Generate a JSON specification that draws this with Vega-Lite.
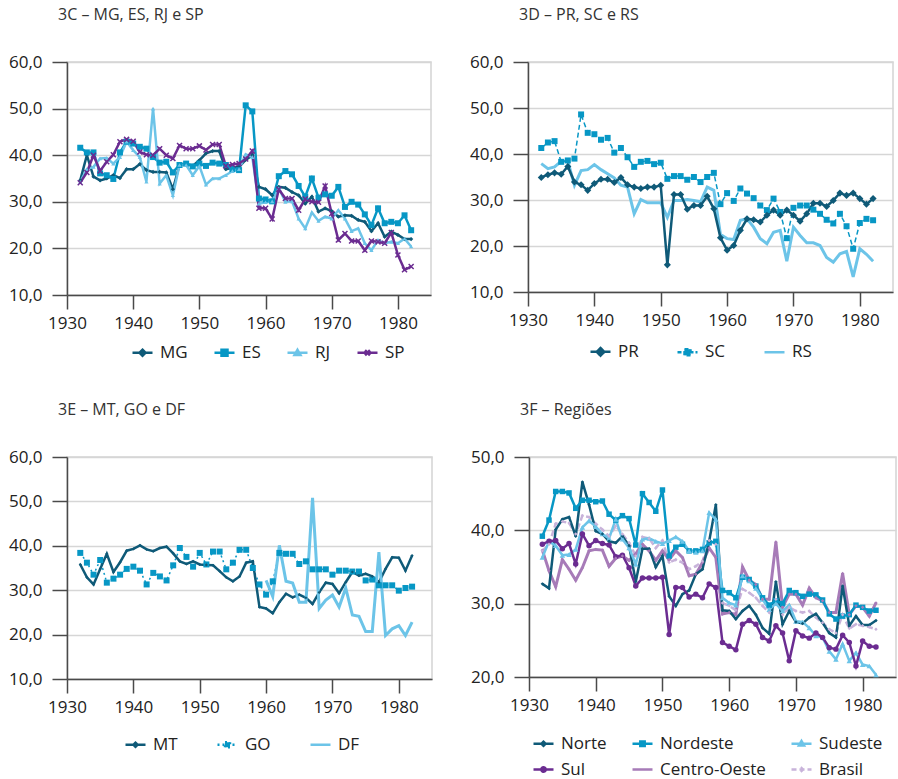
{
"$schema": "https://vega.github.io/schema/vega-lite/v6.json",
"background": "white",
"padding": {"left": 7, "top": 6, "right": 0, "bottom": 0},
"datasets": {
"c": [
{"year":1932,"MG":34.6,"ES":41.6,"RJ":34.3,"SP":34.1},
{"year":1933,"MG":40.0,"ES":40.6,"RJ":37.0,"SP":36.3},
{"year":1934,"MG":35.4,"ES":40.6,"RJ":37.5,"SP":40.0},
{"year":1935,"MG":34.6,"ES":36.1,"RJ":39.3,"SP":36.6},
{"year":1936,"MG":35.0,"ES":35.7,"RJ":39.4,"SP":38.6},
{"year":1937,"MG":35.7,"ES":34.9,"RJ":38.2,"SP":40.1},
{"year":1938,"MG":35.1,"ES":40.6,"RJ":39.6,"SP":42.9},
{"year":1939,"MG":37.0,"ES":42.9,"RJ":42.9,"SP":43.4},
{"year":1940,"MG":37.0,"ES":42.5,"RJ":41.1,"SP":43.0},
{"year":1941,"MG":38.1,"ES":41.8,"RJ":39.6,"SP":40.7},
{"year":1942,"MG":36.8,"ES":41.4,"RJ":34.3,"SP":40.1},
{"year":1943,"MG":36.4,"ES":39.6,"RJ":50.0,"SP":40.0},
{"year":1944,"MG":36.4,"ES":38.4,"RJ":33.9,"SP":41.4},
{"year":1945,"MG":36.3,"ES":38.6,"RJ":35.7,"SP":40.0},
{"year":1946,"MG":32.7,"ES":36.3,"RJ":31.4,"SP":39.3},
{"year":1947,"MG":37.9,"ES":37.9,"RJ":37.9,"SP":42.1},
{"year":1948,"MG":38.2,"ES":38.2,"RJ":37.9,"SP":41.4},
{"year":1949,"MG":37.7,"ES":37.6,"RJ":35.7,"SP":41.4},
{"year":1950,"MG":38.9,"ES":38.2,"RJ":37.7,"SP":42.0},
{"year":1951,"MG":40.4,"ES":37.7,"RJ":33.7,"SP":41.1},
{"year":1952,"MG":40.9,"ES":38.4,"RJ":35.0,"SP":42.3},
{"year":1953,"MG":40.9,"ES":38.2,"RJ":35.0,"SP":42.3},
{"year":1954,"MG":37.0,"ES":37.9,"RJ":35.7,"SP":37.7},
{"year":1955,"MG":37.3,"ES":37.0,"RJ":36.6,"SP":38.0},
{"year":1956,"MG":37.5,"ES":36.8,"RJ":37.0,"SP":38.2},
{"year":1957,"MG":39.0,"ES":50.7,"RJ":40.2,"SP":39.2},
{"year":1958,"MG":40.0,"ES":49.4,"RJ":39.6,"SP":40.9},
{"year":1959,"MG":33.2,"ES":30.7,"RJ":29.6,"SP":28.6},
{"year":1960,"MG":32.7,"ES":30.5,"RJ":29.9,"SP":28.6},
{"year":1961,"MG":31.4,"ES":30.1,"RJ":30.1,"SP":26.3},
{"year":1962,"MG":33.2,"ES":35.5,"RJ":32.9,"SP":32.7},
{"year":1963,"MG":33.0,"ES":36.6,"RJ":30.0,"SP":30.7},
{"year":1964,"MG":32.1,"ES":35.9,"RJ":30.1,"SP":30.7},
{"year":1965,"MG":31.4,"ES":33.4,"RJ":26.4,"SP":28.2},
{"year":1966,"MG":29.6,"ES":31.1,"RJ":24.3,"SP":30.6},
{"year":1967,"MG":31.1,"ES":35.0,"RJ":27.7,"SP":30.0},
{"year":1968,"MG":27.9,"ES":30.9,"RJ":25.9,"SP":29.9},
{"year":1969,"MG":28.6,"ES":31.6,"RJ":26.8,"SP":33.4},
{"year":1970,"MG":28.0,"ES":31.3,"RJ":26.4,"SP":27.5},
{"year":1971,"MG":26.8,"ES":33.2,"RJ":28.2,"SP":21.8},
{"year":1972,"MG":27.1,"ES":28.9,"RJ":26.4,"SP":23.2},
{"year":1973,"MG":27.0,"ES":30.0,"RJ":23.7,"SP":21.6},
{"year":1974,"MG":26.1,"ES":29.4,"RJ":24.3,"SP":21.6},
{"year":1975,"MG":25.7,"ES":27.3,"RJ":21.1,"SP":19.6},
{"year":1976,"MG":23.7,"ES":25.0,"RJ":19.6,"SP":21.6},
{"year":1977,"MG":25.4,"ES":28.6,"RJ":21.8,"SP":21.4},
{"year":1978,"MG":22.5,"ES":25.4,"RJ":21.1,"SP":21.1},
{"year":1979,"MG":23.6,"ES":25.7,"RJ":21.4,"SP":23.4},
{"year":1980,"MG":22.9,"ES":25.4,"RJ":21.1,"SP":18.6},
{"year":1981,"MG":22.0,"ES":27.1,"RJ":22.1,"SP":15.4},
{"year":1982,"MG":22.0,"ES":23.9,"RJ":20.4,"SP":16.1}
],
"d": [
{"year":1932,"PR":34.9,"SC":41.3,"RS":37.9},
{"year":1933,"PR":35.5,"SC":42.5,"RS":36.8},
{"year":1934,"PR":35.9,"SC":42.8,"RS":37.2},
{"year":1935,"PR":35.6,"SC":38.3,"RS":38.4},
{"year":1936,"PR":37.3,"SC":38.6,"RS":38.4},
{"year":1937,"PR":33.9,"SC":39.0,"RS":33.2},
{"year":1938,"PR":33.3,"SC":48.6,"RS":36.4},
{"year":1939,"PR":32.1,"SC":44.6,"RS":36.6},
{"year":1940,"PR":33.6,"SC":44.3,"RS":37.7},
{"year":1941,"PR":34.5,"SC":43.1,"RS":36.6},
{"year":1942,"PR":34.5,"SC":43.5,"RS":35.7},
{"year":1943,"PR":33.8,"SC":40.3,"RS":34.8},
{"year":1944,"PR":34.9,"SC":41.3,"RS":33.2},
{"year":1945,"PR":33.3,"SC":39.3,"RS":32.8},
{"year":1946,"PR":32.8,"SC":37.2,"RS":27.0},
{"year":1947,"PR":32.5,"SC":38.3,"RS":30.1},
{"year":1948,"PR":32.8,"SC":38.5,"RS":29.4},
{"year":1949,"PR":32.8,"SC":37.8,"RS":29.4},
{"year":1950,"PR":33.2,"SC":38.1,"RS":29.4},
{"year":1951,"PR":15.9,"SC":34.6,"RS":26.2},
{"year":1952,"PR":31.2,"SC":35.2,"RS":29.9},
{"year":1953,"PR":31.2,"SC":35.2,"RS":29.9},
{"year":1954,"PR":28.0,"SC":34.4,"RS":30.1},
{"year":1955,"PR":28.8,"SC":35.0,"RS":29.9},
{"year":1956,"PR":28.8,"SC":33.9,"RS":29.6},
{"year":1957,"PR":30.8,"SC":35.0,"RS":32.8},
{"year":1958,"PR":28.1,"SC":35.9,"RS":32.1},
{"year":1959,"PR":21.8,"SC":29.1,"RS":22.5},
{"year":1960,"PR":19.1,"SC":31.5,"RS":21.6},
{"year":1961,"PR":20.1,"SC":29.8,"RS":21.4},
{"year":1962,"PR":23.4,"SC":32.5,"RS":25.6},
{"year":1963,"PR":25.9,"SC":31.4,"RS":25.9},
{"year":1964,"PR":25.7,"SC":30.4,"RS":24.1},
{"year":1965,"PR":25.2,"SC":28.8,"RS":21.6},
{"year":1966,"PR":26.7,"SC":27.8,"RS":20.5},
{"year":1967,"PR":27.8,"SC":30.3,"RS":23.0},
{"year":1968,"PR":26.7,"SC":27.4,"RS":23.4},
{"year":1969,"PR":27.8,"SC":21.7,"RS":16.7},
{"year":1970,"PR":26.7,"SC":28.3,"RS":24.1},
{"year":1971,"PR":25.4,"SC":28.8,"RS":22.3},
{"year":1972,"PR":27.0,"SC":28.8,"RS":20.7},
{"year":1973,"PR":29.3,"SC":27.9,"RS":20.7},
{"year":1974,"PR":29.3,"SC":27.0,"RS":20.1},
{"year":1975,"PR":28.6,"SC":25.7,"RS":17.5},
{"year":1976,"PR":29.9,"SC":24.9,"RS":16.5},
{"year":1977,"PR":31.5,"SC":27.0,"RS":18.3},
{"year":1978,"PR":31.0,"SC":24.3,"RS":18.8},
{"year":1979,"PR":31.5,"SC":19.4,"RS":13.3},
{"year":1980,"PR":30.3,"SC":25.0,"RS":19.4},
{"year":1981,"PR":29.1,"SC":25.9,"RS":18.2},
{"year":1982,"PR":30.3,"SC":25.6,"RS":16.7}
],
"e": [
{"year":1932,"MT":35.8,"GO":38.4},
{"year":1933,"MT":32.9,"GO":36.2},
{"year":1934,"MT":31.3,"GO":33.5},
{"year":1935,"MT":34.8,"GO":36.8},
{"year":1936,"MT":38.2,"GO":31.7},
{"year":1937,"MT":34.1,"GO":32.6},
{"year":1938,"MT":36.3,"GO":33.5},
{"year":1939,"MT":38.9,"GO":34.8},
{"year":1940,"MT":39.3,"GO":35.3},
{"year":1941,"MT":40.1,"GO":34.4},
{"year":1942,"MT":39.2,"GO":31.3},
{"year":1943,"MT":38.8,"GO":33.9},
{"year":1944,"MT":39.5,"GO":33.1},
{"year":1945,"MT":39.8,"GO":32.2},
{"year":1946,"MT":38.3,"GO":35.6},
{"year":1947,"MT":36.5,"GO":39.5},
{"year":1948,"MT":35.9,"GO":37.5},
{"year":1949,"MT":36.5,"GO":35.3},
{"year":1950,"MT":35.8,"GO":38.4},
{"year":1951,"MT":35.7,"GO":35.8},
{"year":1952,"MT":35.6,"GO":38.7},
{"year":1953,"MT":34.3,"GO":38.7},
{"year":1954,"MT":32.9,"GO":34.7},
{"year":1955,"MT":32.0,"GO":36.2},
{"year":1956,"MT":33.1,"GO":39.1},
{"year":1957,"MT":36.2,"GO":39.1},
{"year":1958,"MT":36.5,"GO":35.0},
{"year":1959,"MT":26.2,"GO":31.3},
{"year":1960,"MT":25.9,"GO":29.0,"DF":32.2},
{"year":1961,"MT":24.8,"GO":32.0,"DF":28.6},
{"year":1962,"MT":27.3,"GO":38.4,"DF":40.1},
{"year":1963,"MT":29.2,"GO":38.2,"DF":32.0},
{"year":1964,"MT":28.4,"GO":38.2,"DF":31.6},
{"year":1965,"MT":29.0,"GO":35.9,"DF":27.3},
{"year":1966,"MT":28.3,"GO":36.5,"DF":27.3},
{"year":1967,"MT":26.9,"GO":34.7,"DF":50.8},
{"year":1968,"MT":29.5,"GO":34.7,"DF":25.9},
{"year":1969,"MT":31.7,"GO":34.7,"DF":27.8},
{"year":1970,"MT":31.4,"GO":33.5,"DF":28.9},
{"year":1971,"MT":29.3,"GO":34.4,"DF":26.2},
{"year":1972,"MT":31.8,"GO":34.4,"DF":30.5},
{"year":1973,"MT":34.1,"GO":34.2,"DF":24.4},
{"year":1974,"MT":33.3,"GO":34.2,"DF":24.1},
{"year":1975,"MT":33.7,"GO":32.2,"DF":20.7},
{"year":1976,"MT":33.1,"GO":32.4,"DF":20.7},
{"year":1977,"MT":31.8,"GO":31.1,"DF":38.6},
{"year":1978,"MT":34.8,"GO":31.1,"DF":19.8},
{"year":1979,"MT":37.4,"GO":31.1,"DF":21.3},
{"year":1980,"MT":37.3,"GO":29.9,"DF":22.0},
{"year":1981,"MT":34.4,"GO":30.5,"DF":19.8},
{"year":1982,"MT":37.8,"GO":30.8,"DF":22.8}
],
"f": [
{"year":1932,"Norte":32.7,"Nordeste":39.2,"Sudeste":36.3,"Sul":38.1,"Centro-Oeste":37.3,"Brasil":37.2},
{"year":1933,"Norte":32.1,"Nordeste":41.4,"Sudeste":38.5,"Sul":38.5,"Centro-Oeste":34.5,"Brasil":38.1},
{"year":1934,"Norte":40.1,"Nordeste":45.3,"Sudeste":37.9,"Sul":38.6,"Centro-Oeste":32.3,"Brasil":40.9},
{"year":1935,"Norte":41.5,"Nordeste":45.3,"Sudeste":36.6,"Sul":37.5,"Centro-Oeste":36.0,"Brasil":41.2},
{"year":1936,"Norte":41.8,"Nordeste":45.1,"Sudeste":36.7,"Sul":38.2,"Centro-Oeste":34.7,"Brasil":41.0},
{"year":1937,"Norte":39.2,"Nordeste":43.0,"Sudeste":37.4,"Sul":35.4,"Centro-Oeste":33.2,"Brasil":39.5},
{"year":1938,"Norte":46.6,"Nordeste":44.1,"Sudeste":40.4,"Sul":39.5,"Centro-Oeste":34.9,"Brasil":42.0},
{"year":1939,"Norte":43.5,"Nordeste":44.1,"Sudeste":41.3,"Sul":37.9,"Centro-Oeste":37.2,"Brasil":41.8},
{"year":1940,"Norte":39.9,"Nordeste":43.9,"Sudeste":40.5,"Sul":38.6,"Centro-Oeste":37.4,"Brasil":40.9},
{"year":1941,"Norte":39.5,"Nordeste":44.0,"Sudeste":39.5,"Sul":38.2,"Centro-Oeste":37.3,"Brasil":40.1},
{"year":1942,"Norte":38.5,"Nordeste":42.2,"Sudeste":38.9,"Sul":38.0,"Centro-Oeste":35.1,"Brasil":39.2},
{"year":1943,"Norte":38.3,"Nordeste":41.4,"Sudeste":41.5,"Sul":36.4,"Centro-Oeste":36.2,"Brasil":40.6},
{"year":1944,"Norte":39.2,"Nordeste":42.0,"Sudeste":38.8,"Sul":36.6,"Centro-Oeste":36.5,"Brasil":39.5},
{"year":1945,"Norte":37.9,"Nordeste":41.6,"Sudeste":37.6,"Sul":34.9,"Centro-Oeste":35.9,"Brasil":38.3},
{"year":1946,"Norte":33.0,"Nordeste":38.0,"Sudeste":35.4,"Sul":32.4,"Centro-Oeste":36.8,"Brasil":36.5},
{"year":1947,"Norte":37.5,"Nordeste":45.0,"Sudeste":38.8,"Sul":33.5,"Centro-Oeste":38.1,"Brasil":39.1},
{"year":1948,"Norte":37.5,"Nordeste":43.8,"Sudeste":38.9,"Sul":33.5,"Centro-Oeste":37.2,"Brasil":38.9},
{"year":1949,"Norte":35.0,"Nordeste":42.6,"Sudeste":38.5,"Sul":33.5,"Centro-Oeste":35.9,"Brasil":37.6},
{"year":1950,"Norte":36.5,"Nordeste":45.5,"Sudeste":38.2,"Sul":33.6,"Centro-Oeste":37.2,"Brasil":38.6},
{"year":1951,"Norte":31.0,"Nordeste":36.5,"Sudeste":38.6,"Sul":25.8,"Centro-Oeste":36.0,"Brasil":35.6},
{"year":1952,"Norte":29.7,"Nordeste":37.7,"Sudeste":39.1,"Sul":32.2,"Centro-Oeste":37.2,"Brasil":36.0},
{"year":1953,"Norte":31.3,"Nordeste":38.1,"Sudeste":38.5,"Sul":32.2,"Centro-Oeste":36.3,"Brasil":35.6},
{"year":1954,"Norte":31.8,"Nordeste":37.2,"Sudeste":37.2,"Sul":30.9,"Centro-Oeste":33.8,"Brasil":34.7},
{"year":1955,"Norte":34.0,"Nordeste":37.2,"Sudeste":37.0,"Sul":31.3,"Centro-Oeste":34.0,"Brasil":35.1},
{"year":1956,"Norte":34.7,"Nordeste":37.4,"Sudeste":37.2,"Sul":30.8,"Centro-Oeste":35.6,"Brasil":35.8},
{"year":1957,"Norte":38.5,"Nordeste":38.3,"Sudeste":42.4,"Sul":32.7,"Centro-Oeste":37.6,"Brasil":38.6},
{"year":1958,"Norte":43.5,"Nordeste":38.5,"Sudeste":41.5,"Sul":32.2,"Centro-Oeste":36.3,"Brasil":38.1},
{"year":1959,"Norte":29.1,"Nordeste":31.8,"Sudeste":30.8,"Sul":24.7,"Centro-Oeste":28.6,"Brasil":30.1},
{"year":1960,"Norte":29.0,"Nordeste":31.5,"Sudeste":30.1,"Sul":24.2,"Centro-Oeste":28.8,"Brasil":29.7},
{"year":1961,"Norte":27.9,"Nordeste":30.8,"Sudeste":29.8,"Sul":23.7,"Centro-Oeste":28.5,"Brasil":29.1},
{"year":1962,"Norte":29.0,"Nordeste":33.6,"Sudeste":33.8,"Sul":27.2,"Centro-Oeste":35.0,"Brasil":32.0},
{"year":1963,"Norte":29.7,"Nordeste":33.3,"Sudeste":33.1,"Sul":27.7,"Centro-Oeste":33.2,"Brasil":31.5},
{"year":1964,"Norte":28.5,"Nordeste":32.4,"Sudeste":32.1,"Sul":27.2,"Centro-Oeste":32.6,"Brasil":30.8},
{"year":1965,"Norte":26.7,"Nordeste":30.8,"Sudeste":30.6,"Sul":25.4,"Centro-Oeste":30.6,"Brasil":29.7},
{"year":1966,"Norte":25.9,"Nordeste":29.8,"Sudeste":29.2,"Sul":24.9,"Centro-Oeste":30.6,"Brasil":28.8},
{"year":1967,"Norte":33.0,"Nordeste":30.4,"Sudeste":30.0,"Sul":27.0,"Centro-Oeste":38.4,"Brasil":30.6},
{"year":1968,"Norte":27.2,"Nordeste":30.0,"Sudeste":29.0,"Sul":26.0,"Centro-Oeste":29.5,"Brasil":28.5},
{"year":1969,"Norte":29.0,"Nordeste":31.8,"Sudeste":29.8,"Sul":22.2,"Centro-Oeste":31.3,"Brasil":29.5},
{"year":1970,"Norte":27.5,"Nordeste":31.5,"Sudeste":27.6,"Sul":26.3,"Centro-Oeste":31.3,"Brasil":29.0},
{"year":1971,"Norte":27.3,"Nordeste":31.0,"Sudeste":27.5,"Sul":25.6,"Centro-Oeste":29.8,"Brasil":28.8},
{"year":1972,"Norte":28.1,"Nordeste":31.3,"Sudeste":26.7,"Sul":25.3,"Centro-Oeste":32.1,"Brasil":29.0},
{"year":1973,"Norte":28.6,"Nordeste":31.2,"Sudeste":25.6,"Sul":26.0,"Centro-Oeste":30.8,"Brasil":28.1},
{"year":1974,"Norte":27.4,"Nordeste":30.5,"Sudeste":25.4,"Sul":25.4,"Centro-Oeste":30.4,"Brasil":27.4},
{"year":1975,"Norte":26.0,"Nordeste":28.6,"Sudeste":23.5,"Sul":24.0,"Centro-Oeste":28.8,"Brasil":26.5},
{"year":1976,"Norte":25.4,"Nordeste":27.9,"Sudeste":22.4,"Sul":23.8,"Centro-Oeste":28.8,"Brasil":26.0},
{"year":1977,"Norte":32.4,"Nordeste":28.3,"Sudeste":24.5,"Sul":25.7,"Centro-Oeste":34.1,"Brasil":28.5},
{"year":1978,"Norte":27.0,"Nordeste":28.5,"Sudeste":22.2,"Sul":24.7,"Centro-Oeste":28.5,"Brasil":26.6},
{"year":1979,"Norte":28.3,"Nordeste":29.8,"Sudeste":23.3,"Sul":21.5,"Centro-Oeste":29.7,"Brasil":27.2},
{"year":1980,"Norte":27.1,"Nordeste":29.5,"Sudeste":21.7,"Sul":24.9,"Centro-Oeste":29.5,"Brasil":27.0},
{"year":1981,"Norte":27.1,"Nordeste":29.0,"Sudeste":21.5,"Sul":24.2,"Centro-Oeste":28.3,"Brasil":26.8},
{"year":1982,"Norte":27.7,"Nordeste":29.1,"Sudeste":20.3,"Sul":24.1,"Centro-Oeste":30.1,"Brasil":26.5}
]
},
"spacing": 39,
"resolve": {"scale": {"color": "independent"}, "legend": {"color": "independent"}},
"vconcat": [
{"spacing": 36, "resolve": {"scale": {"color": "independent"}, "legend": {"color": "independent"}}, "hconcat": [
{
"width": 364, "height": 233,
"title": {"text": "3C – MG, ES, RJ e SP", "dx": -9},
"data": {"name": "c"},
"transform": [{"fold": ["MG","ES","RJ","SP"], "as": ["s","v"]}, {"filter": "isValid(datum.v)"}],
"encoding": {
"x": {"field": "year", "type": "quantitative", "scale": {"domain": [1930,1985], "nice": false, "zero": false}, "axis": {"values": [1930,1940,1950,1960,1970,1980], "format": "d"}},
"y": {"field": "v", "type": "quantitative", "scale": {"domain": [10,60], "nice": false, "zero": false}, "axis": {"values": [10,20,30,40,50,60], "labelExpr": "replace(format(datum.value, '.1f'), '.', ',')"}},
"color": {"field": "s", "type": "nominal", "scale": {"domain": ["MG","ES","RJ","SP"], "range": ["#0f5a78","#0797c5","#6cc4e8","#6b2c91"]},
"legend": {"orient": "none", "legendX": 64, "legendY": 279, "direction": "horizontal", "columns": 4, "columnPadding": 21,
"encode": {"symbols": {"update": {
"shape": {"signal": "['M-1,0H1M0,-0.3L0.3,0L0,0.3L-0.3,0Z','M-1,0H1M-0.3,-0.3H0.3V0.3H-0.3Z','M-1,0H1M0,-0.3L0.3,0.22H-0.3Z','M-1,0H1M-0.25,-0.25L0.25,0.25M-0.25,0.25L0.25,-0.25'][indexof(['MG','ES','RJ','SP'], datum.value)]"},
"stroke": {"signal": "['#0f5a78','#0797c5','#6cc4e8','#6b2c91'][indexof(['MG','ES','RJ','SP'], datum.value)]"},
"fill": {"signal": "['#0f5a78','#0797c5','#6cc4e8','#6b2c91'][indexof(['MG','ES','RJ','SP'], datum.value)]"},
"strokeWidth": {"value": 2.5},
"opacity": {"value": 1}
}}}}
}
},
"layer": [
{"mark": {"type": "line", "strokeWidth": 2.5}},
{"transform": [{"filter": "datum.s === 'MG'"}], "mark": {"type": "point", "shape": "diamond", "size": 18, "filled": true, "opacity": 1}},
{"transform": [{"filter": "datum.s === 'ES'"}], "mark": {"type": "point", "shape": "square", "size": 36, "filled": true, "opacity": 1}},
{"transform": [{"filter": "datum.s === 'RJ'"}], "mark": {"type": "point", "shape": "triangle-up", "size": 18, "filled": true, "opacity": 1}},
{"transform": [{"filter": "datum.s === 'SP'"}], "mark": {"type": "point", "shape": "M-1,-1L1,1M-1,1L1,-1", "size": 25, "filled": false, "strokeWidth": 1.5, "opacity": 1}}
]
},
{
"width": 365, "height": 230,
"title": {"text": "3D – PR, SC e RS", "dx": -9},
"data": {"name": "d"},
"transform": [{"fold": ["PR","SC","RS"], "as": ["s","v"]}, {"filter": "isValid(datum.v)"}],
"encoding": {
"x": {"field": "year", "type": "quantitative", "scale": {"domain": [1930,1985], "nice": false, "zero": false}, "axis": {"values": [1930,1940,1950,1960,1970,1980], "format": "d"}},
"y": {"field": "v", "type": "quantitative", "scale": {"domain": [10,60], "nice": false, "zero": false}, "axis": {"values": [10,20,30,40,50,60], "labelExpr": "replace(format(datum.value, '.1f'), '.', ',')"}},
"color": {"field": "s", "type": "nominal", "scale": {"domain": ["PR","SC","RS"], "range": ["#0f5a78","#0797c5","#6cc4e8"]},
"legend": {"orient": "none", "legendX": 61, "legendY": 278, "direction": "horizontal", "columns": 3, "columnPadding": 33,
"encode": {"symbols": {"update": {
"shape": {"signal": "['M-1,0H1M0,-0.38L0.38,0L0,0.38L-0.38,0Z','M-1,0H1M-0.3,-0.3H0.3V0.3H-0.3Z','M-1,0H1'][indexof(['PR','SC','RS'], datum.value)]"},
"stroke": {"signal": "['#0f5a78','#0797c5','#6cc4e8'][indexof(['PR','SC','RS'], datum.value)]"},
"fill": {"signal": "['#0f5a78','#0797c5','#6cc4e8'][indexof(['PR','SC','RS'], datum.value)]"},
"strokeDash": {"signal": "datum.value === 'SC' ? [4,2] : [1,0]"},
"strokeWidth": {"value": 2.5},
"opacity": {"value": 1}
}}}}
}
},
"layer": [
{"transform": [{"filter": "datum.s === 'RS'"}], "mark": {"type": "line", "strokeWidth": 3}},
{"transform": [{"filter": "datum.s === 'SC'"}], "mark": {"type": "line", "strokeWidth": 1.5, "strokeDash": [5,3]}},
{"transform": [{"filter": "datum.s === 'PR'"}], "mark": {"type": "line", "strokeWidth": 2.5}},
{"transform": [{"filter": "datum.s === 'SC'"}], "mark": {"type": "point", "shape": "square", "size": 36, "filled": true, "opacity": 1}},
{"transform": [{"filter": "datum.s === 'PR'"}], "mark": {"type": "point", "shape": "diamond", "size": 50, "filled": true, "opacity": 1}}
]
}
]},
{"spacing": 36, "resolve": {"scale": {"color": "independent"}, "legend": {"color": "independent"}}, "hconcat": [
{
"width": 365, "height": 222,
"title": {"text": "3E – MT, GO e DF", "dx": -9},
"data": {"name": "e"},
"transform": [{"fold": ["MT","GO","DF"], "as": ["s","v"]}, {"filter": "isValid(datum.v)"}],
"encoding": {
"x": {"field": "year", "type": "quantitative", "scale": {"domain": [1930,1985], "nice": false, "zero": false}, "axis": {"values": [1930,1940,1950,1960,1970,1980], "format": "d"}},
"y": {"field": "v", "type": "quantitative", "scale": {"domain": [10,60], "nice": false, "zero": false}, "axis": {"values": [10,20,30,40,50,60], "labelExpr": "replace(format(datum.value, '.1f'), '.', ',')"}},
"color": {"field": "s", "type": "nominal", "scale": {"domain": ["MT","GO","DF"], "range": ["#0f5a78","#0797c5","#6cc4e8"]},
"legend": {"orient": "none", "legendX": 57, "legendY": 276, "direction": "horizontal", "columns": 3, "columnPadding": 34,
"encode": {"symbols": {"update": {
"shape": {"signal": "['M-1,0H1M0,-0.2L0.2,0L0,0.2L-0.2,0Z','M-1,0H1M-0.25,-0.25H0.25V0.25H-0.25Z','M-1,0H1'][indexof(['MT','GO','DF'], datum.value)]"},
"stroke": {"signal": "['#0f5a78','#0797c5','#6cc4e8'][indexof(['MT','GO','DF'], datum.value)]"},
"fill": {"signal": "['#0f5a78','#0797c5','#6cc4e8'][indexof(['MT','GO','DF'], datum.value)]"},
"strokeDash": {"signal": "datum.value === 'GO' ? [2,3] : [1,0]"},
"strokeWidth": {"value": 2.5},
"opacity": {"value": 1}
}}}}
}
},
"layer": [
{"transform": [{"filter": "datum.s === 'GO'"}], "mark": {"type": "line", "strokeWidth": 1.5, "strokeDash": [2,3]}},
{"transform": [{"filter": "datum.s === 'MT'"}], "mark": {"type": "line", "strokeWidth": 2.5}},
{"transform": [{"filter": "datum.s === 'DF'"}], "mark": {"type": "line", "strokeWidth": 3}},
{"transform": [{"filter": "datum.s === 'GO'"}], "mark": {"type": "point", "shape": "square", "size": 36, "filled": true, "opacity": 1}},
{"transform": [{"filter": "datum.s === 'MT'"}], "mark": {"type": "point", "shape": "diamond", "size": 10, "filled": true, "opacity": 1}}
]
},
{
"width": 367, "height": 220,
"title": {"text": "3F – Regiões", "dx": -9},
"data": {"name": "f"},
"transform": [{"fold": ["Norte","Nordeste","Sudeste","Sul","Centro-Oeste","Brasil"], "as": ["s","v"]}, {"filter": "isValid(datum.v)"}],
"encoding": {
"x": {"field": "year", "type": "quantitative", "scale": {"domain": [1930,1985], "nice": false, "zero": false}, "axis": {"values": [1930,1940,1950,1960,1970,1980], "format": "d"}},
"y": {"field": "v", "type": "quantitative", "scale": {"domain": [20,50], "nice": false, "zero": false}, "axis": {"values": [20,30,40,50], "labelExpr": "replace(format(datum.value, '.1f'), '.', ',')"}},
"color": {"field": "s", "type": "nominal", "scale": {"domain": ["Norte","Nordeste","Sudeste","Sul","Centro-Oeste","Brasil"], "range": ["#0f5a78","#0797c5","#6cc4e8","#6b2c91","#a77bb8","#c8b3da"]},
"legend": {"orient": "none", "legendX": 3, "legendY": 275, "direction": "horizontal", "columns": 3, "columnPadding": 20, "rowPadding": 6,
"encode": {"symbols": {"update": {
"shape": {"signal": "['M-1,0H1M0,-0.2L0.2,0L0,0.2L-0.2,0Z','M-1,0H1M-0.22,-0.22H0.22V0.22H-0.22Z','M-1,0H1M0,-0.28L0.26,0.18H-0.26Z','M-1,0H1M-0.22,0A0.22,0.22,0,1,0,0.22,0A0.22,0.22,0,1,0,-0.22,0Z','M-1,0H1','M-1,0H1M0,-0.15L0.15,0L0,0.15L-0.15,0Z'][indexof(['Norte','Nordeste','Sudeste','Sul','Centro-Oeste','Brasil'], datum.value)]"},
"stroke": {"signal": "['#0f5a78','#0797c5','#6cc4e8','#6b2c91','#a77bb8','#c8b3da'][indexof(['Norte','Nordeste','Sudeste','Sul','Centro-Oeste','Brasil'], datum.value)]"},
"fill": {"signal": "['#0f5a78','#0797c5','#6cc4e8','#6b2c91','#a77bb8','#c8b3da'][indexof(['Norte','Nordeste','Sudeste','Sul','Centro-Oeste','Brasil'], datum.value)]"},
"strokeDash": {"signal": "datum.value === 'Brasil' ? [5,3] : [1,0]"},
"strokeWidth": {"value": 2.5},
"opacity": {"value": 1}
}}}}
}
},
"layer": [
{"transform": [{"filter": "datum.s === 'Brasil'"}], "mark": {"type": "line", "strokeWidth": 2.5, "strokeDash": [6,3]}},
{"transform": [{"filter": "datum.s === 'Centro-Oeste'"}], "mark": {"type": "line", "strokeWidth": 3}},
{"transform": [{"filter": "datum.s === 'Sudeste' || datum.s === 'Nordeste' || datum.s === 'Norte' || datum.s === 'Sul'"}], "mark": {"type": "line", "strokeWidth": 2.5}},
{"transform": [{"filter": "datum.s === 'Nordeste'"}], "mark": {"type": "point", "shape": "square", "size": 30, "filled": true, "opacity": 1}},
{"transform": [{"filter": "datum.s === 'Sudeste'"}], "mark": {"type": "point", "shape": "triangle-up", "size": 30, "filled": true, "opacity": 1}},
{"transform": [{"filter": "datum.s === 'Sul'"}], "mark": {"type": "point", "shape": "circle", "size": 30, "filled": true, "opacity": 1}},
{"transform": [{"filter": "datum.s === 'Norte' || datum.s === 'Brasil' || datum.s === 'Centro-Oeste'"}], "mark": {"type": "point", "shape": "diamond", "size": 12, "filled": true, "opacity": 1}}
]
}
]}
],
"config": {
"font": "Open Sans",
"view": {"stroke": "#d4d4d4", "strokeWidth": 1.5},
"title": {"font": "Open Sans", "fontSize": 16, "fontWeight": "normal", "color": "#333333", "anchor": "start", "frame": "group", "offset": 30},
"axis": {"domainColor": "#4a4a4a", "domainWidth": 1.5, "tickColor": "#4a4a4a", "tickWidth": 1.5, "labelFont": "Open Sans", "labelFontSize": 17, "labelColor": "#222222", "gridColor": "#d6d6d6", "gridWidth": 1.5, "title": null, "labelFlush": false},
"axisX": {"grid": false, "tickSize": 14, "labelPadding": 6},
"axisY": {"grid": true, "tickSize": 15, "labelPadding": 10},
"legend": {"title": null, "labelFont": "Open Sans", "labelFontSize": 17, "labelColor": "#222222", "symbolSize": 400, "labelOffset": 6, "padding": 0, "symbolStrokeWidth": 2.5}
}
}
